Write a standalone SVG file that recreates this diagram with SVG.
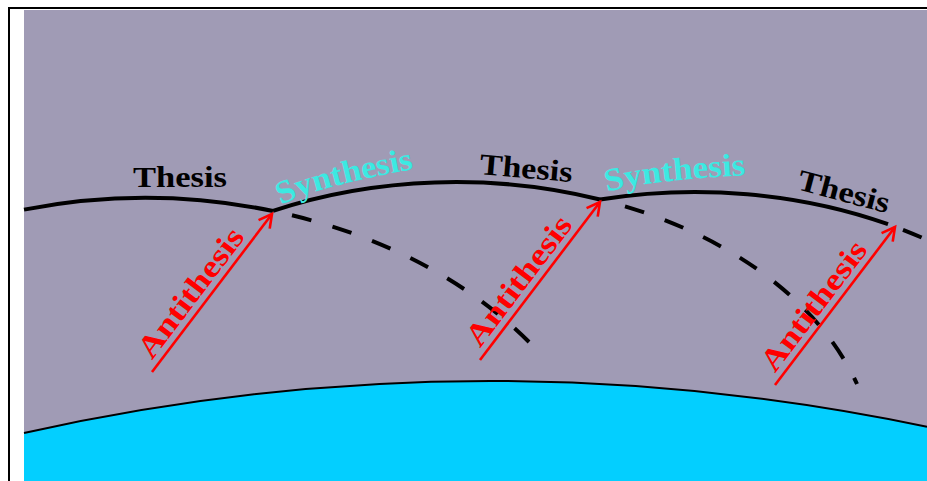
<svg xmlns="http://www.w3.org/2000/svg" width="927" height="481" viewBox="0 0 927 481">
  <defs>
    <style>
      .arc { fill: none; stroke: #000; stroke-width: 4; stroke-linecap: butt; }
      .dash { fill: none; stroke: #000; stroke-width: 4; stroke-dasharray: 20 22; }
      .arrow { fill: none; stroke: #FF0000; stroke-width: 2.6; marker-end: url(#head); }
      .lbl { font-family: "Liberation Serif", "DejaVu Serif", serif; font-size: 30px; font-weight: bold; }
      .thesis { fill: #000; }
      .anti { fill: #FF0000; font-size: 31px; }
      .syn { fill: #3CE9E2; font-size: 32px; }
    </style>
    <marker id="head" markerUnits="userSpaceOnUse" markerWidth="20" markerHeight="20" viewBox="-16 -10 20 20" refX="0" refY="0" orient="auto">
      <path d="M-13,-7 L0,0 L-13,7" fill="none" stroke="#FF0000" stroke-width="2.6"/>
    </marker>
    <path id="synPath1" d="M281,205 Q318,186 420,168"/>
    <path id="synPath2" d="M607,192 Q648,180 752,175"/>
  </defs>

  <g id="frame">
    <rect x="24" y="10" width="903" height="471" fill="#A09BB5"/>
    <path d="M9,481 L9,8 L927,8" fill="none" stroke="#000" stroke-width="2"/>
  </g>

  <g id="earth">
    <path d="M24,433 Q475.5,332.2 927,426.7 L927,481 L24,481 Z" fill="#03CFFF"/>
    <path d="M24,433 Q475.5,332.2 927,426.7" fill="none" stroke="#000" stroke-width="2"/>
  </g>

  <g id="connectors">
    <path class="arc" d="M24,209.6 A480,360 0 0 1 273,211"/>
    <path class="dash" d="M292,215.3 A480,360 0 0 1 532,345"/>
    <path class="arc" d="M273,210.8 A420,288 0 0 1 600,199.5"/>
    <path class="dash" d="M625,206.3 A420,288 0 0 1 857,384"/>
    <path class="arc" d="M600,199.5 A420,288 0 0 1 888,224.2"/>
    <path class="dash" d="M903,229.8 A420,288 0 0 1 940,246.1"/>
    <line class="arrow" x1="152" y1="372" x2="272" y2="214"/>
    <line class="arrow" x1="480" y1="360" x2="600" y2="202"/>
    <line class="arrow" x1="775" y1="385" x2="895" y2="227"/>
  </g>

  <g id="thesis1"><text class="lbl thesis" x="133" y="187" textLength="94" lengthAdjust="spacingAndGlyphs">Thesis</text></g>
  <g id="thesis2"><text class="lbl thesis" x="479" y="174" textLength="93" lengthAdjust="spacingAndGlyphs" transform="rotate(5 479 174)">Thesis</text></g>
  <g id="thesis3"><text class="lbl thesis" x="796" y="189" textLength="94" lengthAdjust="spacingAndGlyphs" transform="rotate(15 796 189)">Thesis</text></g>

  <g id="synthesis1"><text class="lbl syn" textLength="138" lengthAdjust="spacingAndGlyphs"><textPath href="#synPath1">Synthesis</textPath></text></g>
  <g id="synthesis2"><text class="lbl syn" textLength="140" lengthAdjust="spacingAndGlyphs"><textPath href="#synPath2">Synthesis</textPath></text></g>

  <g id="antithesis1"><text class="lbl anti" x="151.9" y="360.6" textLength="155" lengthAdjust="spacingAndGlyphs" transform="rotate(-52.8 151.9 360.6)">Antithesis</text></g>
  <g id="antithesis2"><text class="lbl anti" x="479.9" y="348.6" textLength="155" lengthAdjust="spacingAndGlyphs" transform="rotate(-52.8 479.9 348.6)">Antithesis</text></g>
  <g id="antithesis3"><text class="lbl anti" x="774.9" y="373.6" textLength="155" lengthAdjust="spacingAndGlyphs" transform="rotate(-52.8 774.9 373.6)">Antithesis</text></g>
</svg>
